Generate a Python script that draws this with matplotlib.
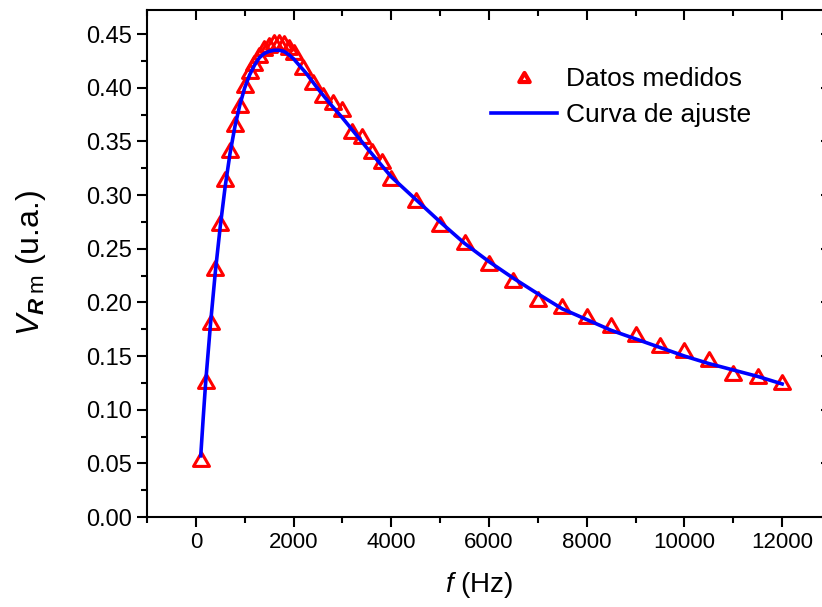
import matplotlib
matplotlib.use('Agg')
import matplotlib.pyplot as plt
from matplotlib.lines import Line2D
from matplotlib.path import Path
from matplotlib.ticker import MultipleLocator, FormatStrFormatter

# measured points (frequency in Hz, voltage in arbitrary units)
freq_data = [100, 200, 300, 400, 500, 600, 700, 800, 900, 1000, 1100, 1200,
             1300, 1400, 1500, 1600, 1700, 1800, 1900, 2000, 2200, 2400,
             2600, 2800, 3000, 3200, 3400, 3600, 3800, 4000, 4500, 5000,
             5500, 6000, 6500, 7000, 7500, 8000, 8500, 9000, 9500, 10000,
             10500, 11000, 11500, 12000]
v_data = [0.054, 0.127, 0.182, 0.232, 0.274, 0.315, 0.342, 0.366, 0.384,
          0.403, 0.416, 0.423, 0.431, 0.437, 0.440, 0.443, 0.443, 0.442,
          0.438, 0.433, 0.419, 0.405, 0.393, 0.387, 0.380, 0.360, 0.355,
          0.341, 0.332, 0.316, 0.295, 0.273, 0.256, 0.237, 0.221, 0.203,
          0.197, 0.187, 0.179, 0.171, 0.160, 0.156, 0.147, 0.134, 0.131,
          0.126]

# fitted curve
freq_fit = [100, 150, 200, 300, 400, 500, 600, 700, 800, 900, 1000, 1100,
            1200, 1300, 1400, 1500, 1600, 1700, 1800, 1900, 2000, 2250,
            2500, 2750, 3000, 3500, 4000, 4500, 5000, 5500, 6000, 6500,
            7000, 7500, 8000, 8500, 9000, 9500, 10000, 10500, 11000, 11500,
            12000]
v_fit = [0.057, 0.092, 0.125, 0.180, 0.229, 0.271, 0.308, 0.339, 0.364,
         0.384, 0.400, 0.412, 0.421, 0.428, 0.432, 0.434, 0.435, 0.435,
         0.434, 0.431, 0.427, 0.414, 0.399, 0.385, 0.372, 0.344, 0.317,
         0.296, 0.275, 0.255, 0.238, 0.2225, 0.208, 0.194, 0.184, 0.174,
         0.166, 0.158, 0.150, 0.143, 0.137, 0.131, 0.124]

plt.rcParams['font.family'] = ['Liberation Sans', 'DejaVu Sans']
plt.rcParams['mathtext.fontset'] = 'custom'
plt.rcParams['mathtext.rm'] = 'Liberation Sans'
plt.rcParams['mathtext.it'] = 'Liberation Sans:italic'
plt.rcParams['mathtext.bf'] = 'Liberation Sans:bold'
plt.rcParams['mathtext.bfit'] = 'Liberation Sans:italic:bold'

W, H = 822, 607
fig = plt.figure(figsize=(W / 100, H / 100), dpi=100)
# right spine sits just outside the picture, as in the original
ax = fig.add_axes([147 / W, 1 - 517 / H, (831 - 147) / W, (517 - 10) / H])

# closed, equilateral-ish open triangle
tri = Path([(-1, -0.866), (1, -0.866), (0, 0.866), (-1, -0.866)],
           closed=True)
ax.plot(freq_data, v_data, linestyle='none', marker=tri, ms=11.5,
        mfc='none', mec='#ff0000', mew=2.2, zorder=2)
ax.plot(freq_fit, v_fit, color='#0000ff', lw=2.6, zorder=3)

ax.set_xlim(-1000, 13000)
ax.set_ylim(0, 0.4725)
ax.xaxis.set_major_locator(MultipleLocator(2000))
ax.xaxis.set_minor_locator(MultipleLocator(1000))
ax.yaxis.set_major_locator(MultipleLocator(0.05))
ax.yaxis.set_minor_locator(MultipleLocator(0.025))
ax.yaxis.set_major_formatter(FormatStrFormatter('%.2f'))

for s in ax.spines.values():
    s.set_linewidth(1.5)

ax.tick_params(which='major', direction='out', length=7, width=1.5,
               pad=4, top=True, right=True)
ax.tick_params(which='minor', direction='out', length=4, width=1.5,
               top=True, right=False)
ax.tick_params(axis='x', labelsize=16)
ax.tick_params(axis='y', labelsize=17)
for t in ax.xaxis.get_major_ticks() + ax.xaxis.get_minor_ticks():
    t.tick2line.set_marker(3)  # inward on top
for t in ax.yaxis.get_major_ticks():
    t.tick2line.set_marker(0)  # inward on right

ax.set_xlabel('$f$ (Hz)', fontsize=20)
ax.xaxis.set_label_coords(0.486, -0.105)
ax.set_ylabel(r'$V_{\mathbfit{R}\;\mathrm{m}}$ (u.a.)', fontsize=23)
ax.yaxis.set_label_coords(-0.145, 0.5)

handles = [Line2D([], [], linestyle='none', marker=tri, ms=7.5, mfc='none',
                  mec='#ff0000', mew=3),
           Line2D([], [], color='#0000ff', lw=2.6)]
fig.legend(handles, ['Datos medidos', 'Curva de ajuste'],
           loc='upper left', bbox_to_anchor=(478 / W, 1 - 54 / H),
           frameon=False, fontsize=19, handlelength=2.5, handletextpad=0.35,
           borderpad=0, labelspacing=0.45, numpoints=1)

fig.savefig('out.png', dpi=100)
